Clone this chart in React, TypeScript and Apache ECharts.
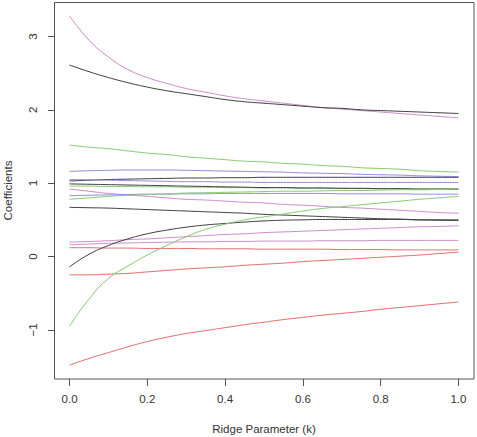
import React, { useEffect, useRef } from "react";
import * as echarts from "echarts";

const kValues = [0, 0.05, 0.1, 0.15, 0.2, 0.25, 0.3, 0.35, 0.4, 0.45, 0.5, 0.55, 0.6, 0.65, 0.7, 0.75, 0.8, 0.85, 0.9, 0.95, 1.0];

const xTicks = [0, 0.2, 0.4, 0.6, 0.8, 1.0];
const yTicks = [-1, 0, 1, 2, 3];

const purpleTop = [3.28, 2.95, 2.72, 2.55, 2.44, 2.36, 2.29, 2.24, 2.19, 2.15, 2.12, 2.09, 2.06, 2.03, 2.01, 1.99, 1.97, 1.95, 1.93, 1.91, 1.89];
const blackTop = [2.61, 2.52, 2.44, 2.37, 2.31, 2.26, 2.22, 2.18, 2.14, 2.11, 2.09, 2.07, 2.05, 2.03, 2.02, 2.0, 1.99, 1.98, 1.97, 1.96, 1.95];
const greenTop = [1.52, 1.49, 1.47, 1.44, 1.41, 1.39, 1.36, 1.34, 1.32, 1.3, 1.29, 1.27, 1.26, 1.24, 1.23, 1.21, 1.2, 1.19, 1.17, 1.16, 1.15];
const blueA = [1.16, 1.17, 1.175, 1.18, 1.18, 1.18, 1.175, 1.17, 1.165, 1.16, 1.155, 1.15, 1.14, 1.135, 1.13, 1.12, 1.115, 1.11, 1.1, 1.095, 1.09];
const blackA = [1.03, 1.04, 1.05, 1.055, 1.06, 1.065, 1.07, 1.07, 1.075, 1.075, 1.08, 1.08, 1.08, 1.08, 1.08, 1.08, 1.08, 1.08, 1.08, 1.08, 1.08];
const blueB = [1.05, 1.045, 1.04, 1.035, 1.03, 1.025, 1.02, 1.02, 1.015, 1.015, 1.01, 1.01, 1.01, 1.01, 1.01, 1.01, 1.01, 1.01, 1.01, 1.01, 1.01];
const blackB = [0.99, 0.985, 0.98, 0.975, 0.97, 0.965, 0.96, 0.955, 0.95, 0.945, 0.94, 0.94, 0.935, 0.935, 0.93, 0.93, 0.925, 0.925, 0.92, 0.92, 0.92];
const greenB = [0.96, 0.96, 0.955, 0.955, 0.95, 0.95, 0.945, 0.945, 0.94, 0.94, 0.935, 0.935, 0.93, 0.93, 0.93, 0.925, 0.925, 0.925, 0.92, 0.92, 0.92];
const purpleDesc = [0.92, 0.89, 0.86, 0.84, 0.82, 0.8, 0.78, 0.77, 0.755, 0.74, 0.73, 0.71, 0.7, 0.685, 0.67, 0.66, 0.645, 0.63, 0.615, 0.6, 0.59];
const blueC = [0.83, 0.835, 0.84, 0.845, 0.85, 0.85, 0.855, 0.855, 0.86, 0.86, 0.86, 0.86, 0.86, 0.86, 0.855, 0.855, 0.855, 0.855, 0.85, 0.85, 0.85];
const greenC = [0.78, 0.8, 0.82, 0.835, 0.845, 0.855, 0.865, 0.87, 0.875, 0.88, 0.885, 0.89, 0.89, 0.895, 0.9, 0.9, 0.905, 0.91, 0.91, 0.915, 0.92];
const blackDesc = [0.67, 0.665, 0.66, 0.65, 0.64, 0.63, 0.62, 0.61, 0.6, 0.59, 0.575, 0.565, 0.555, 0.545, 0.535, 0.525, 0.515, 0.51, 0.5, 0.495, 0.49];
const purpleRise = [0.195, 0.205, 0.215, 0.23, 0.24, 0.255, 0.27, 0.285, 0.3, 0.31, 0.325, 0.335, 0.345, 0.355, 0.365, 0.375, 0.385, 0.395, 0.405, 0.41, 0.42];
const purpleFlat = [0.16, 0.17, 0.18, 0.185, 0.19, 0.195, 0.2, 0.2, 0.205, 0.205, 0.21, 0.21, 0.21, 0.215, 0.215, 0.215, 0.22, 0.22, 0.22, 0.22, 0.22];
const redFlat = [0.12, 0.12, 0.115, 0.115, 0.11, 0.11, 0.11, 0.105, 0.105, 0.105, 0.1, 0.1, 0.1, 0.1, 0.095, 0.095, 0.095, 0.09, 0.09, 0.09, 0.09];
const blackRise = [-0.14, 0.03, 0.15, 0.24, 0.31, 0.36, 0.4, 0.43, 0.45, 0.47, 0.485, 0.495, 0.5, 0.505, 0.505, 0.505, 0.505, 0.505, 0.5, 0.5, 0.5];
const redRise = [-0.25, -0.25, -0.24, -0.23, -0.21, -0.19, -0.17, -0.155, -0.14, -0.12, -0.105, -0.09, -0.07, -0.055, -0.04, -0.025, -0.01, 0.005, 0.02, 0.04, 0.06];
const greenRise = [-0.95, -0.58, -0.3, -0.13, 0.02, 0.15, 0.27, 0.37, 0.44, 0.5, 0.54, 0.58, 0.62, 0.655, 0.68, 0.705, 0.73, 0.755, 0.78, 0.8, 0.82];
const redBottom = [-1.48, -1.39, -1.31, -1.23, -1.16, -1.1, -1.05, -1.01, -0.97, -0.93, -0.895, -0.86, -0.83, -0.8, -0.775, -0.75, -0.72, -0.695, -0.67, -0.645, -0.62];

const BLACK = "#3c3c3c";
const RED = "#e36a6a";
const GREEN = "#86c96e";
const BLUE = "#8c8cd9";
const PURPLE = "#c98bc9";

const seriesList: [number[], string][] = [
  [purpleTop, PURPLE],
  [blackTop, BLACK],
  [greenTop, GREEN],
  [blueA, BLUE],
  [blackA, BLACK],
  [blueB, BLUE],
  [greenB, GREEN],
  [blackB, BLACK],
  [purpleDesc, PURPLE],
  [blueC, BLUE],
  [greenC, GREEN],
  [blackDesc, BLACK],
  [purpleRise, PURPLE],
  [purpleFlat, PURPLE],
  [redFlat, RED],
  [blackRise, BLACK],
  [redRise, RED],
  [greenRise, GREEN],
  [redBottom, RED],
];

const FONT = "Liberation Sans, Arial, sans-serif";

export default function App() {
  const ref = useRef<HTMLDivElement>(null);
  useEffect(() => {
    if (!ref.current) return;
    const chart = echarts.init(ref.current, null, { renderer: "svg" });
    chart.setOption({
      animation: false,
      backgroundColor: "#ffffff",
      grid: { left: 54, right: 3, top: 2, bottom: 58, containLabel: false },
      xAxis: {
        type: "value",
        min: -0.04,
        max: 1.04,
        splitLine: { show: false },
        axisLine: { show: false, onZero: false },
        axisTick: { show: true, length: 7, customValues: xTicks, lineStyle: { color: "#555", width: 1 } },
        axisLabel: {
          customValues: xTicks,
          margin: 14,
          fontFamily: FONT,
          fontSize: 11.5,
          color: "#333",
          formatter: (v: number) => v.toFixed(1),
        },
      },
      yAxis: {
        type: "value",
        min: -1.67,
        max: 3.47,
        splitLine: { show: false },
        axisLine: { show: false, onZero: false },
        axisTick: { show: true, length: 6, customValues: yTicks, lineStyle: { color: "#555", width: 1 } },
        axisLabel: {
          customValues: yTicks,
          rotate: 90,
          margin: 15,
          fontFamily: FONT,
          fontSize: 11.5,
          color: "#333",
          formatter: (v: number) => (v < 0 ? "\u2212" + Math.abs(v) : String(v)),
        },
      },
      graphic: [
        {
          type: "rect",
          shape: { x: 54.5, y: 2.5, width: 419.5, height: 376.5 },
          style: { fill: "none", stroke: "#555", lineWidth: 1 },
          z: 100,
          silent: true,
        },
        {
          type: "text",
          x: 8,
          y: 190.5,
          rotation: Math.PI / 2,
          style: {
            text: "Coefficients",
            fontFamily: FONT,
            fontSize: 11.5,
            fill: "#333",
            align: "center",
            verticalAlign: "middle",
          },
        },
        {
          type: "text",
          x: 264,
          y: 429,
          style: {
            text: "Ridge Parameter (k)",
            fontFamily: FONT,
            fontSize: 11.5,
            fill: "#333",
            align: "center",
            verticalAlign: "middle",
          },
        },
      ],
      series: seriesList.map(([vals, color], idx) => ({
        type: "line",
        name: "s" + idx,
        data: kValues.map((k, i) => [k, vals[i]]),
        smooth: true,
        showSymbol: false,
        symbol: "none",
        lineStyle: { color, width: 1 },
        itemStyle: { color },
        silent: true,
      })),
    });
    return () => chart.dispose();
  }, []);
  return (
    <div
      ref={ref}
      style={{ position: "fixed", left: 0, top: 0, width: 477, height: 437, background: "#fff" }}
    />
  );
}
